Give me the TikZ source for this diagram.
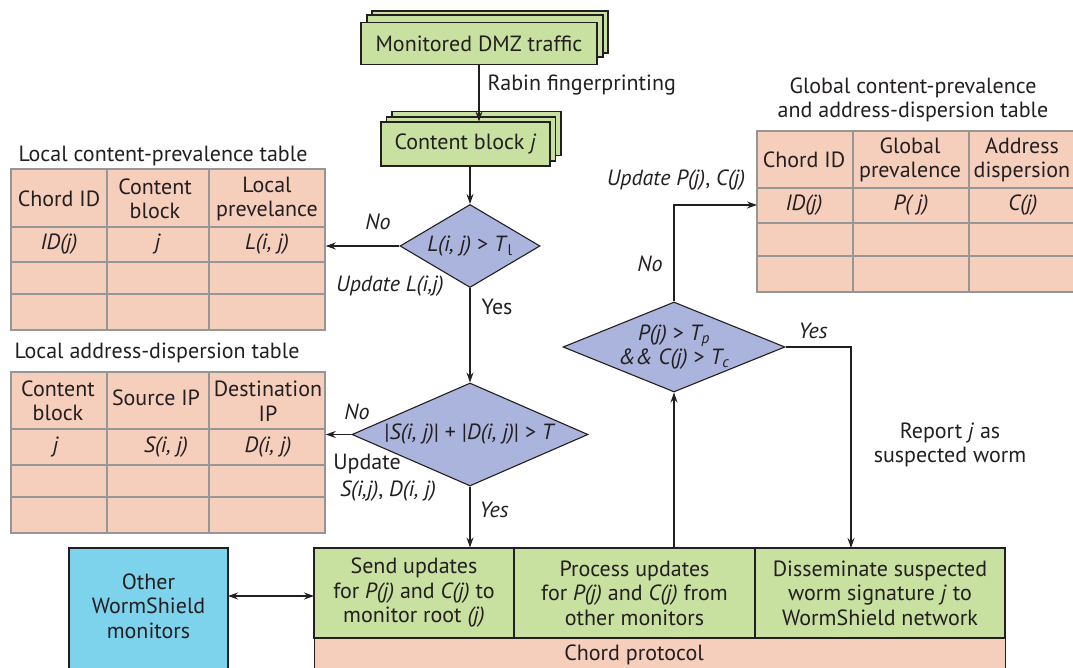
\documentclass[tikz,border=0pt]{standalone}
\usepackage{fontspec}
\setmainfont{PT Sans}
\usetikzlibrary{arrows.meta,shapes.geometric}
\definecolor{gfill}{RGB}{200,224,160}
\definecolor{pfill}{RGB}{246,206,188}
\definecolor{dfill}{RGB}{170,180,220}
\definecolor{cfill}{RGB}{125,210,236}
\definecolor{tline}{RGB}{150,150,150}
\definecolor{ink}{RGB}{35,31,32}
\begin{document}
\begin{tikzpicture}[x=1pt,y=-1pt, font=\fontsize{22}{24.5}\selectfont, text=ink,
 box/.style={draw=ink, line width=1.1pt, rectangle, inner sep=0pt, align=center},
 gbox/.style={box, fill=gfill},
 tbl/.style={draw=tline, line width=1.5pt, fill=pfill, rectangle, inner sep=0pt},
 tgrid/.style={draw=tline, line width=1.5pt},
 dia/.style={draw=ink, line width=1.1pt, fill=dfill, diamond, inner sep=0pt},
 arr/.style={draw=ink, line width=1.1pt, -{Stealth[length=10pt,width=7pt]}},
 darr/.style={draw=ink, line width=1.1pt, {Stealth[length=10pt,width=7pt]}-{Stealth[length=10pt,width=7pt]}},
 lbl/.style={inner sep=0pt, align=center},
]
\useasboundingbox (0,0) rectangle (1073,668);
\clip (0,0) rectangle (1073,668);

% stacked boxes
\node[gbox, minimum width=236, minimum height=42] (monb2) at (490,32) {};
\node[gbox, minimum width=236, minimum height=42] (monb1) at (485,36) {};
\node[gbox, minimum width=236, minimum height=42] (mon) at (479,43.5) {Monitored DMZ traffic};
\node[gbox, minimum width=169, minimum height=44] (cbb2) at (476.5,133.5) {};
\node[gbox, minimum width=169, minimum height=44] (cbb1) at (471,139) {};
\node[gbox, minimum width=169, minimum height=44] (cb) at (465.5,144) {Content block \textit{j}};

% diamonds
\node[dia, minimum width=140, minimum height=83] (d1) at (470,246) {};
\node[lbl] (d1t) at (470,246) {\textit{L(i, j)} > \textit{T}\textsubscript{l}};
\node[dia, minimum width=236, minimum height=103] (d2) at (470,434.5) {};
\node[lbl] (d2t) at (470,434.5) {|\textit{S(i, j)}| + |\textit{D(i, j)}| > \textit{T}};
\node[dia, minimum width=222, minimum height=90] (d3) at (674,347) {};
\node[lbl] (d3t) at (674,347) {\textit{P(j)} > \textit{T\textsubscript{p}}\\ \textit{\&\& C(j)} > \textit{T\textsubscript{c}}};

% local content-prevalence table
\node[lbl] (t1title) at (163,156) {Local content-prevalence table};
\node[tbl, minimum width=314, minimum height=161] (lcp) at (168,249.5) {};
\draw[tgrid] (107,169) -- (107,330) (209,169) -- (209,330)
  (11,227) -- (325,227) (11,262) -- (325,262) (11,294) -- (325,294);
\node[lbl] (lcph1) at (59,199) {Chord ID};
\node[lbl] (lcph2) at (155,199) {Content\\block};
\node[lbl] (lcph3) at (267,199) {Local\\prevelance};
\node[lbl] (lcpr1) at (59,244) {\textit{ID(j)}};
\node[lbl] (lcpr2) at (158,244) {\textit{j}};
\node[lbl] (lcpr3) at (267,244) {\textit{L(i, j)}};

% local address-dispersion table
\node[lbl] (t2title) at (157,353) {Local address-dispersion table};
\node[tbl, minimum width=314, minimum height=161] (lad) at (168,452.5) {};
\draw[tgrid] (107,372) -- (107,533) (209,372) -- (209,533)
  (11,429) -- (325,429) (11,465) -- (325,465) (11,497) -- (325,497);
\node[lbl] (ladh1) at (58,401) {Content\\block};
\node[lbl] (ladh2) at (156,398) {Source IP};
\node[lbl] (ladh3) at (268,401) {Destination\\IP};
\node[lbl] (ladr1) at (56,447) {\textit{j}};
\node[lbl] (ladr2) at (166,447) {\textit{S(i, j)}};
\node[lbl] (ladr3) at (268,447) {\textit{D(i, j)}};

% global table
\node[lbl] (t3title) at (913,100) {Global content-prevalence\\and address-dispersion table};
\node[tbl, minimum width=318, minimum height=161] (gt) at (916,211.5) {};
\draw[tgrid] (853,131) -- (853,292) (969,131) -- (969,292)
  (757,188) -- (1075,188) (757,223) -- (1075,223) (757,256) -- (1075,256);
\node[lbl] (gth1) at (804,160) {Chord ID};
\node[lbl] (gth2) at (910,160) {Global\\prevalence};
\node[lbl] (gth3) at (1022,160) {Address\\dispersion};
\node[lbl] (gtr1) at (804,205) {\textit{ID(j)}};
\node[lbl] (gtr2) at (911,205) {\textit{P( j)}};
\node[lbl] (gtr3) at (1023,205) {\textit{C(j)}};

% bottom boxes
\node[box, fill=cfill, minimum width=159, minimum height=132] (other) at (148.5,614) {};
\node[lbl] (othert) at (148.5,606) {Other\\WormShield\\monitors};
\node[gbox, minimum width=200, minimum height=90] (send) at (414,593) {Send updates\\for \textit{P(j)} and \textit{C(j)} to\\monitor root \textit{(j)}};
\node[gbox, minimum width=241, minimum height=90] (proc) at (634.5,593) {Process updates\\for \textit{P(j)} and \textit{C(j)} from\\other monitors};
\node[gbox, minimum width=250, minimum height=90] (diss) at (880,593) {Disseminate suspected\\worm signature \textit{j} to\\WormShield network};
\node[box, fill=pfill, minimum width=691, minimum height=42, anchor=north west] (chord) at (314,638) {};
\node[lbl] (chordt) at (634,655) {Chord protocol};

% coordinates
\coordinate (gin) at (757,205);
\coordinate (ydown) at (851,548);
\coordinate (oa) at (228,596);
\coordinate (sa) at (314,596);

% connectors
\draw[arr] (mon.south) -- node[lbl, right=8pt, pos=0.36] (rabin) {Rabin fingerprinting} (cb.north -| mon.south);
\draw[arr] (cb.south -| d1.north) -- (d1.north);
\draw[arr] (d1.west) -- (d1.west -| lcp.east);
\draw[arr] (d1.south) -- (d2.north);
\draw[arr] (d2.west) -- (d2.west -| lad.east);
\draw[arr] (d2.south) -- (d2.south |- send.north);
\draw[arr] (proc.north -| d3.south) -- (d3.south);
\draw[arr] (d3.north) |- (gin);
\draw[arr] (d3.east) -| (ydown);
\draw[darr] (oa) -- (sa);

% labels
\node[lbl] (no1) at (378,222) {\textit{No}};
\node[lbl] (upd1) at (390,286) {\textit{Update L(i,j)}};
\node[lbl] (yes1) at (497,307) {Yes};
\node[lbl] (no2) at (357,412) {\textit{No}};
\node[lbl] (upd2a) at (367,464) {Update};
\node[lbl] (upd2b) at (388,491) {\textit{S(i,j)}, \textit{D(i, j)}};
\node[lbl] (yes2) at (494,510) {\textit{Yes}};
\node[lbl] (upd3) at (676,180) {\textit{Update P(j)}, \textit{C(j)}};
\node[lbl] (no3) at (650,264) {\textit{No}};
\node[lbl] (yes3) at (813,331) {\textit{Yes}};
\node[lbl] (report) at (950,445) {Report \textit{j} as\\suspected worm};
\end{tikzpicture}
\end{document}
